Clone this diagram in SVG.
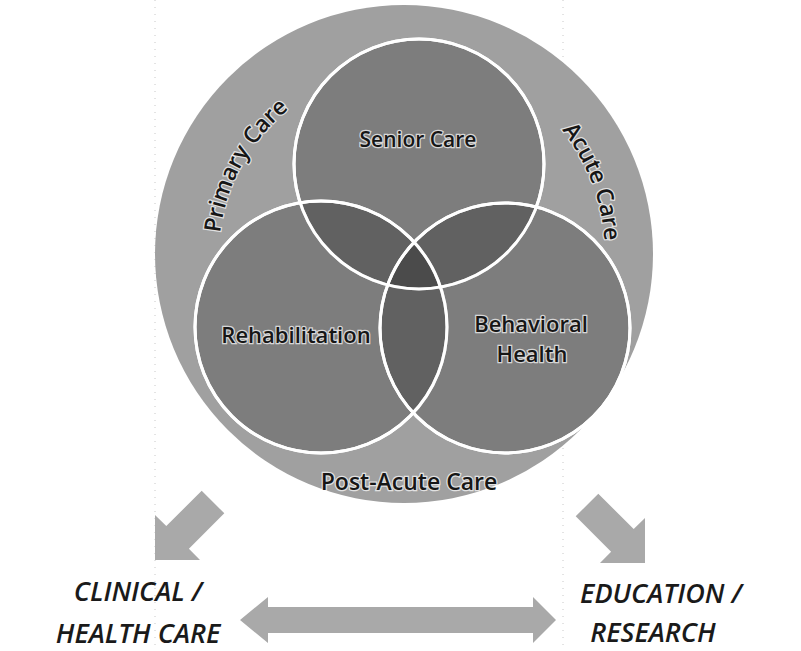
<svg xmlns="http://www.w3.org/2000/svg" xmlns:xlink="http://www.w3.org/1999/xlink" width="801" height="651" viewBox="0 0 801 651">
  <style>
    .lbl { font-family: "Open Sans", "DejaVu Sans", sans-serif; font-weight: 600; fill: #161616; stroke: #ffffff; stroke-width: 2.5; stroke-opacity: 0.7; paint-order: stroke fill; }
    .cap { font-family: "Open Sans", "Liberation Sans", sans-serif; font-style: italic; font-weight: 600; fill: #1a1a1a; font-size: 27px; }
    .inner { fill: #000000; fill-opacity: 0.22; stroke: #ffffff; stroke-width: 3; }
    .arrow { fill: #a9a9a9; }
    .scan { stroke: #c8c8c8; stroke-width: 1; stroke-dasharray: 1 6; fill: none; }
  </style>
  <defs>
    <path id="arcPrimary" d="M243.8,346.5 A185,185 0 0 1 404,69"/>
    <path id="arcAcute" d="M404,53 A201,201 0 0 1 578,354.5"/>
  </defs>
  <rect width="801" height="651" fill="#ffffff"/>
  <line class="scan" x1="155" y1="0" x2="155" y2="651"/>
  <line class="scan" x1="563" y1="0" x2="563" y2="651"/>

  <g id="outer-circle">
    <circle cx="404" cy="254" r="249" fill="#a0a0a0"/>
  </g>
  <g id="senior-care">
    <circle class="inner" cx="419" cy="164" r="125" fill-opacity="0.26"/>
  </g>
  <g id="rehabilitation">
    <circle class="inner" cx="321" cy="327" r="126"/>
  </g>
  <g id="behavioral-health">
    <circle class="inner" cx="505" cy="328" r="125"/>
  </g>
  <g id="circle-outlines" fill="none" stroke="#ffffff" stroke-width="3">
    <circle cx="419" cy="164" r="125"/>
    <circle cx="321" cy="327" r="126"/>
    <circle cx="505" cy="328" r="125"/>
  </g>

  <g id="labels">
    <text class="lbl" x="418" y="147" font-size="21" text-anchor="middle">Senior Care</text>
    <text class="lbl" x="296" y="343" font-size="22" text-anchor="middle">Rehabilitation</text>
    <text class="lbl" x="531" y="332" font-size="22" text-anchor="middle">Behavioral</text>
    <text class="lbl" x="532" y="362" font-size="22" text-anchor="middle">Health</text>
    <text class="lbl" x="409" y="490" font-size="23" text-anchor="middle">Post-Acute Care</text>
    <text class="lbl" font-size="23"><textPath xlink:href="#arcPrimary" href="#arcPrimary" startOffset="190.5" text-anchor="middle">Primary Care</textPath></text>
    <text class="lbl" font-size="23"><textPath xlink:href="#arcAcute" href="#arcAcute" startOffset="242" text-anchor="middle">Acute Care</textPath></text>
  </g>

  <g id="connectors">
    <polygon class="arrow" points="155,560 155,515 166.3,526.1 201.7,490.7 224.3,513.3 188.9,548.7 200,560"/>
    <polygon class="arrow" points="645,563 645,518 633.7,529.1 598.3,493.7 575.7,516.3 611.1,551.7 600,563"/>
    <polygon class="arrow" points="240,620 268,597 268,607 533,607 533,597 556,620 533,643 533,633 268,633 268,643"/>
  </g>

  <g id="clinical">
    <text class="cap" x="138" y="601" text-anchor="middle">CLINICAL /</text>
    <text class="cap" x="138" y="643" text-anchor="middle">HEALTH CARE</text>
  </g>
  <g id="education">
    <text class="cap" x="661" y="603" text-anchor="middle">EDUCATION /</text>
    <text class="cap" x="653" y="642" text-anchor="middle">RESEARCH</text>
  </g>
</svg>
